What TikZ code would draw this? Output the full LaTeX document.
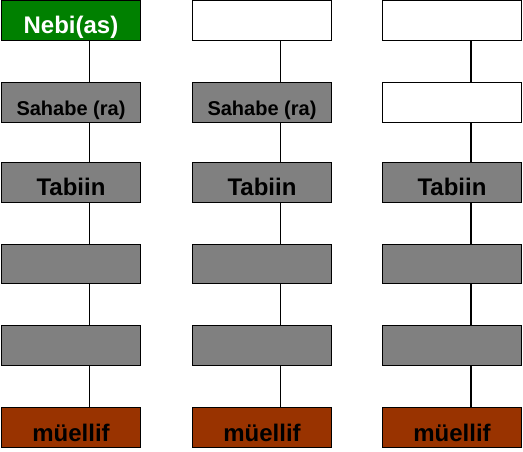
\documentclass[tikz,border=0pt]{standalone}
\usepackage{fontspec}
\setmainfont{Liberation Sans}
\definecolor{nebigreen}{HTML}{008000}
\definecolor{boxgray}{HTML}{808080}
\definecolor{mbrown}{HTML}{993300}
\begin{document}
\begin{tikzpicture}[x=1pt,y=-1pt,
  cell/.style={draw=black,line width=1.4pt,minimum width=139pt,minimum height=39.5pt,
    inner sep=0pt,outer sep=0pt,text height=27pt,text depth=0pt,
    font=\bfseries\fontsize{24}{24}\selectfont},
  green/.style={cell,fill=nebigreen,text=white},
  gray/.style={cell,fill=boxgray,text=black},
  white/.style={cell,fill=white},
  brown/.style={cell,fill=mbrown,text=black},
  small/.style={font=\bfseries\fontsize{20}{20}\selectfont},
  link/.style={line width=0.9pt,black}]
\useasboundingbox (0,0) rectangle (523,452);
% column 1
\node[green] (a1) at (71,20.5) {Nebi(as)};
\node[gray,small] (a2) at (71,102.5) {Sahabe (ra)};
\node[gray] (a3) at (71,182.5) {Tabiin};
\node[gray] (a4) at (71,264) {};
\node[gray] (a5) at (71,345.5) {};
\node[brown] (a6) at (71,427.5) {müellif};
% column 2
\node[white] (b1) at (262,20.5) {};
\node[gray,small] (b2) at (262,102.5) {Sahabe (ra)};
\node[gray] (b3) at (262,182.5) {Tabiin};
\node[gray] (b4) at (262,264) {};
\node[gray] (b5) at (262,345.5) {};
\node[brown] (b6) at (262,427.5) {müellif};
% column 3
\node[white] (c1) at (452,20.5) {};
\node[white] (c2) at (452,102.5) {};
\node[gray] (c3) at (452,182.5) {Tabiin};
\node[gray] (c4) at (452,264) {};
\node[gray] (c5) at (452,345.5) {};
\node[brown] (c6) at (452,427.5) {müellif};
% connectors
\foreach \c in {a,b} {
  \foreach \i/\j in {1/2,2/3,3/4,4/5,5/6} {
    \draw[link] ([xshift=18pt]\c\i.south) -- ([xshift=18pt]\c\j.north);
  }
}
\foreach \i/\j in {1/2,2/3,3/4,4/5,5/6} {
  \draw[link,line width=1.3pt] ([xshift=19pt]c\i.south) -- ([xshift=19pt]c\j.north);
}
\end{tikzpicture}
\end{document}
